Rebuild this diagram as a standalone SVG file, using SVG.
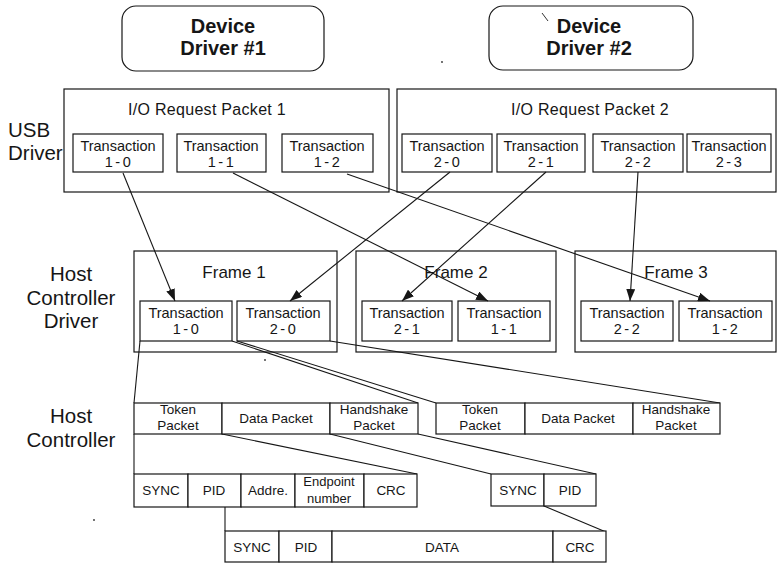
<svg xmlns="http://www.w3.org/2000/svg" width="779" height="565" viewBox="0 0 779 565">
  <style>
    .box { fill: none; stroke: #161616; stroke-width: 1.2; }
    .cell { fill: #fff; stroke: #161616; stroke-width: 1.2; }
    .wire { fill: none; stroke: #161616; stroke-width: 1.1; }
    text { font-family: "Liberation Sans", Arial, Helvetica, sans-serif; fill: #161616; text-anchor: middle; }
    .layer { font-size: 20.5px; }
    .dev { font-size: 20px; font-weight: bold; }
    .irp { font-size: 16px; letter-spacing: 0.3px; }
    .frm { font-size: 17px; }
    .tr { font-size: 14.5px; }
    .num { font-size: 14.5px; letter-spacing: 2.5px; }
    .pk { font-size: 13.5px; }
    .sm { font-size: 13px; }
  </style>
  <defs>
    <marker id="arr" markerWidth="12" markerHeight="9" refX="12" refY="4.5" orient="auto" markerUnits="userSpaceOnUse">
      <path d="M0,0 L12,4.5 L0,9 z" fill="#161616"/>
    </marker>
  </defs>

  <rect width="779" height="565" fill="#fff"/>

  <!-- layer captions -->
  <g id="layer-labels">
    <text class="layer" x="8" y="137" style="text-anchor:start">USB</text>
    <text class="layer" x="8" y="160" style="text-anchor:start">Driver</text>
    <text class="layer" x="71" y="281">Host</text>
    <text class="layer" x="71" y="305">Controller</text>
    <text class="layer" x="71" y="328">Driver</text>
    <text class="layer" x="71" y="423">Host</text>
    <text class="layer" x="71" y="447">Controller</text>
  </g>

  <!-- device drivers -->
  <g id="device-driver-1">
    <rect class="box" x="122" y="6" width="202" height="65" rx="14"/>
    <text class="dev" x="223" y="33">Device</text>
    <text class="dev" x="223" y="55">Driver #1</text>
  </g>
  <g id="device-driver-2">
    <rect class="box" x="489" y="6" width="204" height="64" rx="14"/>
    <text class="dev" x="589" y="33">Device</text>
    <text class="dev" x="589" y="55">Driver #2</text>
  </g>

  <!-- I/O request packets -->
  <g id="irp-1">
    <rect class="box" x="64" y="89" width="325" height="103"/>
    <text class="irp" x="207" y="115">I/O Request Packet 1</text>
  </g>
  <g id="irp-2">
    <rect class="box" x="397" y="89" width="379" height="103"/>
    <text class="irp" x="590" y="115">I/O Request Packet 2</text>
  </g>

  <!-- USB driver transactions -->
  <g id="usb-t1-0"><rect class="box" x="73" y="134" width="90" height="38"/><text class="tr" x="118" y="151">Transaction</text><text class="num" x="119" y="167">1-0</text></g>
  <g id="usb-t1-1"><rect class="box" x="177" y="134" width="89" height="38"/><text class="tr" x="221" y="151">Transaction</text><text class="num" x="222" y="167">1-1</text></g>
  <g id="usb-t1-2"><rect class="box" x="282" y="134" width="91" height="38"/><text class="tr" x="327" y="151">Transaction</text><text class="num" x="328" y="167">1-2</text></g>
  <g id="usb-t2-0"><rect class="box" x="402" y="134" width="90" height="38"/><text class="tr" x="447" y="151">Transaction</text><text class="num" x="448" y="167">2-0</text></g>
  <g id="usb-t2-1"><rect class="box" x="497" y="134" width="88" height="38"/><text class="tr" x="541" y="151">Transaction</text><text class="num" x="542" y="167">2-1</text></g>
  <g id="usb-t2-2"><rect class="box" x="593" y="134" width="90" height="38"/><text class="tr" x="638" y="151">Transaction</text><text class="num" x="639" y="167">2-2</text></g>
  <g id="usb-t2-3"><rect class="box" x="687" y="134" width="84" height="38"/><text class="tr" x="729" y="151">Transaction</text><text class="num" x="730" y="167">2-3</text></g>

  <!-- frames -->
  <g id="frame-1">
    <rect class="box" x="134" y="251" width="203" height="101"/>
    <text class="frm" x="234" y="278">Frame 1</text>
  </g>
  <g id="frame-2">
    <rect class="box" x="356" y="251" width="200" height="101"/>
    <text class="frm" x="456" y="278">Frame 2</text>
  </g>
  <g id="frame-3">
    <rect class="box" x="575" y="251" width="201" height="101"/>
    <text class="frm" x="676" y="278">Frame 3</text>
  </g>

  <!-- host controller driver transactions -->
  <g id="hcd-t1-0"><rect class="box" x="140" y="301" width="92" height="40"/><text class="tr" x="186" y="318">Transaction</text><text class="num" x="187" y="334">1-0</text></g>
  <g id="hcd-t2-0"><rect class="box" x="237" y="301" width="93" height="40"/><text class="tr" x="283" y="318">Transaction</text><text class="num" x="284" y="334">2-0</text></g>
  <g id="hcd-t2-1"><rect class="box" x="362" y="301" width="90" height="40"/><text class="tr" x="407" y="318">Transaction</text><text class="num" x="408" y="334">2-1</text></g>
  <g id="hcd-t1-1"><rect class="box" x="458" y="301" width="92" height="40"/><text class="tr" x="504" y="318">Transaction</text><text class="num" x="505" y="334">1-1</text></g>
  <g id="hcd-t2-2"><rect class="box" x="581" y="301" width="92" height="40"/><text class="tr" x="627" y="318">Transaction</text><text class="num" x="628" y="334">2-2</text></g>
  <g id="hcd-t1-2"><rect class="box" x="679" y="301" width="93" height="40"/><text class="tr" x="725" y="318">Transaction</text><text class="num" x="726" y="334">1-2</text></g>

  <!-- connectors -->
  <g id="connectors">
    <line class="wire" x1="123" y1="173" x2="175" y2="301" marker-end="url(#arr)"/>
    <line class="wire" x1="233" y1="173" x2="488" y2="301" marker-end="url(#arr)"/>
    <line class="wire" x1="347" y1="174" x2="710" y2="301" marker-end="url(#arr)"/>
    <line class="wire" x1="450" y1="172" x2="290" y2="301" marker-end="url(#arr)"/>
    <line class="wire" x1="546" y1="172" x2="402" y2="301" marker-end="url(#arr)"/>
    <line class="wire" x1="638" y1="172" x2="630" y2="301" marker-end="url(#arr)"/>
    <!-- expansion lines into packet detail -->
    <line class="wire" x1="140" y1="341" x2="134" y2="403"/>
    <line class="wire" x1="232" y1="341" x2="418" y2="403"/>
    <line class="wire" x1="237" y1="341" x2="436" y2="403"/>
    <line class="wire" x1="330" y1="341" x2="720" y2="403"/>
    <line class="wire" x1="134" y1="434" x2="134" y2="474"/>
    <line class="wire" x1="222" y1="434" x2="417" y2="474"/>
    <line class="wire" x1="330" y1="434" x2="491" y2="474"/>
    <line class="wire" x1="418" y1="434" x2="596" y2="474"/>
    <line class="wire" x1="225" y1="507" x2="225" y2="531"/>
    <line class="wire" x1="544" y1="506" x2="606" y2="532"/>
  </g>

  <!-- packets of transaction 1-0 -->
  <g id="packets-1">
    <rect class="cell" x="134" y="403" width="88" height="31"/>
    <rect class="cell" x="222" y="403" width="108" height="31"/>
    <rect class="cell" x="330" y="403" width="88" height="31"/>
    <text class="pk" x="178" y="414">Token</text>
    <text class="pk" x="178" y="430">Packet</text>
    <text class="pk" x="276" y="423">Data Packet</text>
    <text class="pk" x="374" y="414">Handshake</text>
    <text class="pk" x="374" y="430">Packet</text>
  </g>

  <!-- packets of transaction 2-0 -->
  <g id="packets-2">
    <rect class="cell" x="436" y="403" width="89" height="31"/>
    <rect class="cell" x="525" y="403" width="108" height="31"/>
    <rect class="cell" x="633" y="403" width="87" height="31"/>
    <text class="pk" x="480" y="414">Token</text>
    <text class="pk" x="480" y="430">Packet</text>
    <text class="pk" x="578" y="423">Data Packet</text>
    <text class="pk" x="676" y="414">Handshake</text>
    <text class="pk" x="676" y="430">Packet</text>
  </g>

  <!-- token packet fields -->
  <g id="token-fields">
    <rect class="cell" x="134" y="474" width="54" height="33"/>
    <rect class="cell" x="188" y="474" width="53" height="33"/>
    <rect class="cell" x="241" y="474" width="54" height="33"/>
    <rect class="cell" x="295" y="474" width="69" height="33"/>
    <rect class="cell" x="364" y="474" width="53" height="33"/>
    <text class="pk" x="161" y="495">SYNC</text>
    <text class="pk" x="214" y="495">PID</text>
    <text class="pk" x="268" y="495">Addre.</text>
    <text class="sm" x="329" y="486">Endpoint</text>
    <text class="sm" x="329" y="503">number</text>
    <text class="pk" x="391" y="495">CRC</text>
  </g>

  <!-- handshake packet fields -->
  <g id="handshake-fields">
    <rect class="cell" x="491" y="474" width="53" height="32"/>
    <rect class="cell" x="544" y="474" width="52" height="32"/>
    <text class="pk" x="518" y="495">SYNC</text>
    <text class="pk" x="570" y="495">PID</text>
  </g>

  <!-- data packet fields -->
  <g id="data-fields">
    <rect class="cell" x="225" y="531" width="54" height="31"/>
    <rect class="cell" x="279" y="531" width="53" height="31"/>
    <rect class="cell" x="332" y="531" width="221" height="31"/>
    <rect class="cell" x="553" y="531" width="53" height="31"/>
    <text class="pk" x="252" y="552">SYNC</text>
    <text class="pk" x="306" y="552">PID</text>
    <text class="pk" x="442" y="552">DATA</text>
    <text class="pk" x="580" y="552">CRC</text>
  </g>

  <!-- small stray marks -->
  <g id="marks" fill="#333" stroke="#333">
    <line x1="542" y1="13" x2="548" y2="21" stroke-width="1"/>
    <circle cx="442" cy="62" r="0.9" stroke="none"/>
    <circle cx="94" cy="520" r="0.9" stroke="none"/>
    <circle cx="265" cy="360" r="0.9" stroke="none"/>
  </g>
</svg>
